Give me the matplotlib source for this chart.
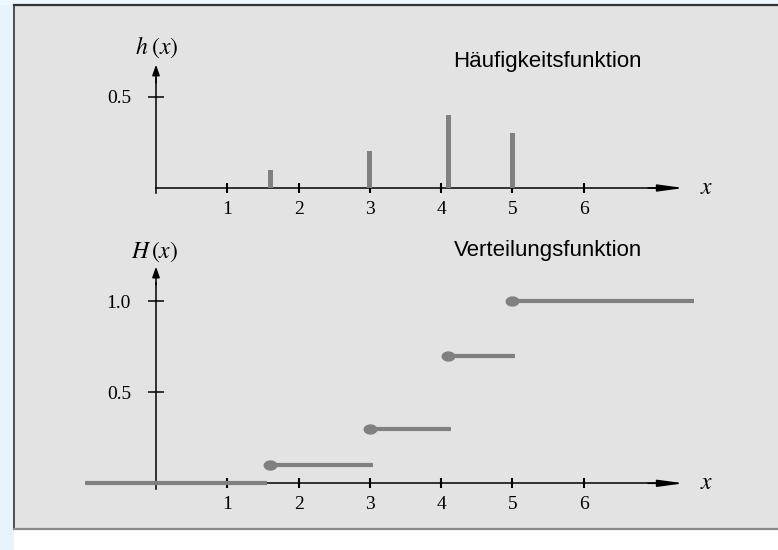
import matplotlib.pyplot as plt
import numpy as np
from matplotlib.patches import Rectangle
from matplotlib.lines import Line2D

plt.rcParams['mathtext.fontset'] = 'stix'

# Haeufigkeitsfunktion h(x)
x_vals = [1.6, 3.0, 4.1, 5.0]
h_vals = [0.1, 0.2, 0.4, 0.3]

# Verteilungsfunktion H(x): Stufen
step_start = [-1.0, 1.6, 3.0, 4.1, 5.0]
step_end = [1.55, 3.04, 4.14, 5.04, 7.55]
H_vals = [0.0, 0.1, 0.3, 0.7, 1.0]

x_ticks = [1, 2, 3, 4, 5, 6]
h_ticks = [0.5]
H_ticks = [0.5, 1.0]

W, Hpx = 778, 550
grey = '#808080'
panel = '#e3e3e3'

fig = plt.figure(figsize=(W / 100, Hpx / 100), dpi=100, facecolor='white')

# Hintergrund
fig.patches.append(Rectangle((0, 0), 14 / W, 1, transform=fig.transFigure,
                             facecolor='#e6f2fc', edgecolor='none', zorder=-5))
fig.patches.append(Rectangle((0, 1 - 5 / Hpx), 1, 5 / Hpx, transform=fig.transFigure,
                             facecolor='#f0f8ff', edgecolor='none', zorder=-5))
fig.patches.append(Rectangle((14 / W, 1 - 529 / Hpx), 1 - 14 / W, 524 / Hpx,
                             transform=fig.transFigure, facecolor=panel,
                             edgecolor='none', zorder=-5))
fig.lines.append(Line2D([14 / W, 1], [1 - 5 / Hpx] * 2, transform=fig.transFigure,
                        color='#333333', lw=1.6, zorder=-4))
fig.lines.append(Line2D([14 / W] * 2, [1 - 529 / Hpx, 1 - 5 / Hpx],
                        transform=fig.transFigure, color='#333333', lw=1.2, zorder=-4))
fig.lines.append(Line2D([14 / W, 1], [1 - 529 / Hpx] * 2, transform=fig.transFigure,
                        color='#8a8a8a', lw=1.6, zorder=-4))

x0_px, ux = 156.0, 71.3
serif = 'Liberation Serif'


def make_axes(y0_px, uy, ylim):
    xlim = (-1.3, 8.2)
    left = x0_px + xlim[0] * ux
    right = x0_px + xlim[1] * ux
    bottom = y0_px - ylim[0] * uy
    top = y0_px - ylim[1] * uy
    ax = fig.add_axes([left / W, 1 - bottom / Hpx, (right - left) / W,
                       (bottom - top) / Hpx])
    ax.set_zorder(2)
    ax.set_xlim(xlim)
    ax.set_ylim(ylim)
    ax.patch.set_visible(False)
    for s in ['top', 'right']:
        ax.spines[s].set_visible(False)
    ax.spines['left'].set_position(('data', 0))
    ax.spines['bottom'].set_position(('data', 0))
    for s in ['left', 'bottom']:
        ax.spines[s].set_linewidth(1.1)
    ax.tick_params(axis='x', direction='inout', length=7.5, width=1.5,
                   labelsize=14, pad=5.5)
    ax.tick_params(axis='y', direction='inout', length=11, width=1.1,
                   labelsize=14, pad=12.5)
    return ax


def arrows(ax, xend, ytop):
    ax.annotate('', xy=(xend, 0), xytext=(xend - 0.5, 0),
                arrowprops=dict(arrowstyle='-|>,head_length=1.1,head_width=0.15',
                                color='black', lw=1.1, mutation_scale=14,
                                shrinkA=0, shrinkB=0))
    ax.annotate('', xy=(0, ytop), xytext=(0, ytop - 0.1),
                arrowprops=dict(arrowstyle='-|>,head_length=0.45,head_width=0.16',
                                color='black', lw=1.1, mutation_scale=14,
                                shrinkA=0, shrinkB=0))


# oben: h(x)
ax1 = make_axes(188.0, 182.7, (-0.15, 0.85))
ax1.bar(x_vals, h_vals, width=0.07, color=grey, zorder=3)
ax1.spines['bottom'].set_bounds(0, 7.2)
ax1.spines['left'].set_bounds(-0.03, 0.6)
ax1.set_xticks(x_ticks)
ax1.set_yticks(h_ticks)
ax1.set_xticklabels([str(t) for t in x_ticks], family=serif)
ax1.set_yticklabels(['0.5'], family=serif)
arrows(ax1, 7.4, 0.675)
ax1.text(0.01, 0.772, r'$h\;(x)$', ha='center', va='center', fontsize=17)
ax1.text(7.72, 0.005, r'$x$', ha='center', va='center', fontsize=17)
ax1.text(5.49, 0.69, 'Häufigkeitsfunktion', ha='center', va='center',
         fontsize=16, family='Liberation Sans')

# unten: H(x)
ax2 = make_axes(483.3, 182.0, (-0.15, 1.35))
ax2.hlines(H_vals, step_start, step_end, colors=grey, lw=3, zorder=3)
t = np.linspace(0, 2 * np.pi, 40)
dot = list(zip(1.4 * np.cos(t), np.sin(t)))
ax2.plot(step_start[1:], H_vals[1:], linestyle='none', marker=dot,
         ms=9, color=grey, zorder=4)
ax2.spines['bottom'].set_bounds(0, 7.2)
ax2.spines['left'].set_bounds(-0.03, 1.1)
ax2.set_xticks(x_ticks)
ax2.set_yticks(H_ticks)
ax2.set_xticklabels([str(t) for t in x_ticks], family=serif)
ax2.set_yticklabels(['0.5', '1.0'], family=serif)
arrows(ax2, 7.4, 1.19)
ax2.text(-0.02, 1.273, r'$H\,(x)$', ha='center', va='center', fontsize=17)
ax2.text(7.72, 0.005, r'$x$', ha='center', va='center', fontsize=17)
ax2.text(5.5, 1.278, 'Verteilungsfunktion', ha='center', va='center',
         fontsize=16, family='Liberation Sans')

fig.savefig('out.png', dpi=100, facecolor=fig.get_facecolor())
